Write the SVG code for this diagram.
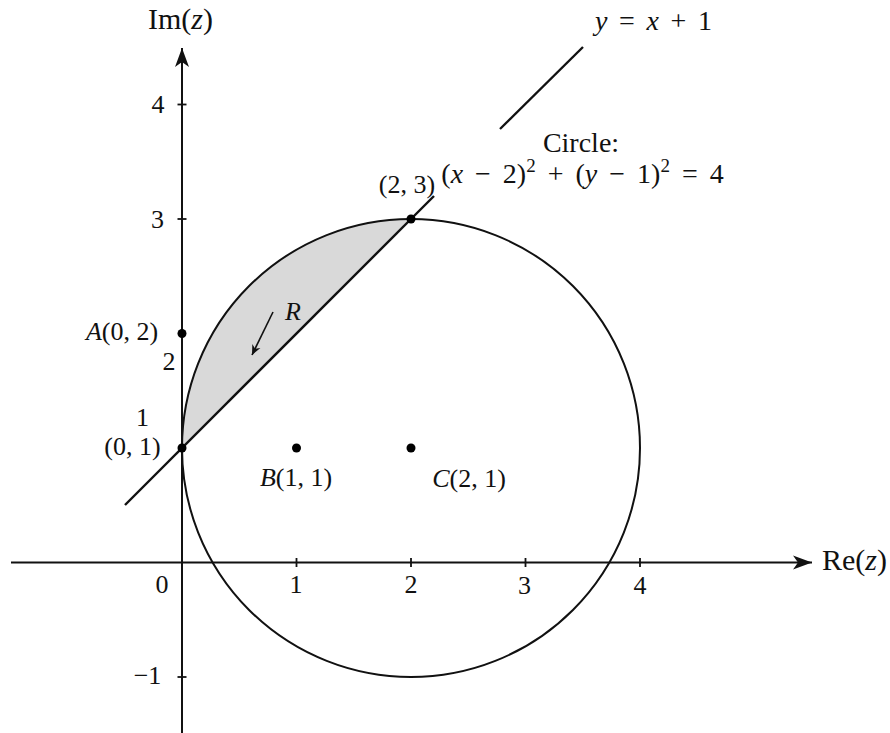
<svg xmlns="http://www.w3.org/2000/svg" width="890" height="733" viewBox="0 0 890 733">
<style>
text{font-family:"Liberation Serif","Times New Roman",serif;font-size:26px;fill:#111}
.it{font-style:italic}
.big{font-size:28px}
.axl{font-size:30px}
.ax{stroke:#111;stroke-width:2;fill:none}
.tk{stroke:#111;stroke-width:1.8}
.ln{stroke:#111;stroke-width:2.4;fill:none;stroke-linecap:butt}
.dot{fill:#000}
.m{text-anchor:middle}
.e{text-anchor:end}
.eq{font-size:28px;word-spacing:5px}
</style>
<defs>
<marker id="ah" markerUnits="userSpaceOnUse" markerWidth="24" markerHeight="16" viewBox="-20 -8 24 16" refX="0" refY="0" orient="auto">
<path d="M0,0 L-19,-7 L-14,0 L-19,7 Z" fill="#111"/>
</marker>
<marker id="ahs" markerUnits="userSpaceOnUse" markerWidth="16" markerHeight="12" viewBox="-12 -6 14 12" refX="0" refY="0" orient="auto">
<path d="M0,0 L-10,-4.5 L-7,0 L-10,4.5 Z" fill="#111"/>
</marker>
</defs>
<rect width="890" height="733" fill="#fff"/>
<g id="region">
<path d="M182,448 A229,229 0 0 1 411,219 Z" fill="#d9d9d9" stroke="none"/>
</g>
<g id="axes">
<line class="ax" x1="11" y1="562.5" x2="812" y2="562.5" marker-end="url(#ah)"/>
<line class="ax" x1="182" y1="733" x2="182" y2="48" marker-end="url(#ah)"/>
<g id="ticks">
<line class="tk" x1="296.5" y1="558" x2="296.5" y2="567"/>
<line class="tk" x1="411" y1="558" x2="411" y2="567"/>
<line class="tk" x1="525.5" y1="558" x2="525.5" y2="567"/>
<line class="tk" x1="640" y1="558" x2="640" y2="567"/>
<line class="tk" x1="177.5" y1="104.5" x2="186.5" y2="104.5"/>
<line class="tk" x1="177.5" y1="219" x2="186.5" y2="219"/>
<line class="tk" x1="177.5" y1="677" x2="186.5" y2="677"/>
</g>
<text x="180.5" y="29" class="m axl">Im(<tspan class="it">z</tspan>)</text>
<text x="822" y="570" class="axl">Re(<tspan class="it">z</tspan>)</text>
<text x="162" y="593" class="m">0</text>
<text x="296" y="593" class="m">1</text>
<text x="411" y="593" class="m">2</text>
<text x="524.5" y="594" class="m">3</text>
<text x="640" y="594" class="m">4</text>
<text x="158" y="113" class="m">4</text>
<text x="157.5" y="228" class="m">3</text>
<text x="169" y="370" class="m">2</text>
<text x="142.5" y="426" class="m">1</text>
<text x="147.5" y="684" class="m">−1</text>
</g>
<g id="circle">
<circle cx="411" cy="448" r="229" fill="none" stroke="#111" stroke-width="2"/>
<text x="581" y="152" class="m big">Circle:</text>
<text x="582.5" y="183" class="m eq">(<tspan class="it">x</tspan> − 2)<tspan dy="-11" font-size="19">2</tspan><tspan dy="11"> + (</tspan><tspan class="it">y</tspan> − 1)<tspan dy="-11" font-size="19">2</tspan><tspan dy="11"> = 4</tspan></text>
</g>
<g id="line">
<line class="ln" x1="125" y1="505" x2="434" y2="196"/>
<line class="ln" x1="500" y1="129" x2="583" y2="47"/>
<text x="653.5" y="30" class="m eq" style="word-spacing:4.6px"><tspan class="it">y</tspan> = <tspan class="it">x</tspan> + 1</text>
</g>
<g id="connectors">
<line x1="273" y1="312" x2="252" y2="355" stroke="#111" stroke-width="1.6" marker-end="url(#ahs)"/>
</g>
<g id="labelR"><text x="285" y="320" class="it">R</text></g>
<g id="pA"><circle class="dot" cx="182" cy="333.5" r="4.5"/><text x="122" y="340" class="m"><tspan class="it">A</tspan>(0, 2)</text></g>
<g id="p01"><circle class="dot" cx="182" cy="448" r="4.5"/><text x="132.5" y="455" class="m">(0, 1)</text></g>
<g id="pB"><circle class="dot" cx="296.5" cy="448" r="4.5"/><text x="296" y="486" class="m"><tspan class="it">B</tspan>(1, 1)</text></g>
<g id="pC"><circle class="dot" cx="411" cy="448" r="4.5"/><text x="469" y="487" class="m"><tspan class="it">C</tspan>(2, 1)</text></g>
<g id="p23"><circle class="dot" cx="411" cy="219" r="4.5"/><text x="407" y="193" class="m">(2, 3)</text></g>
</svg>
